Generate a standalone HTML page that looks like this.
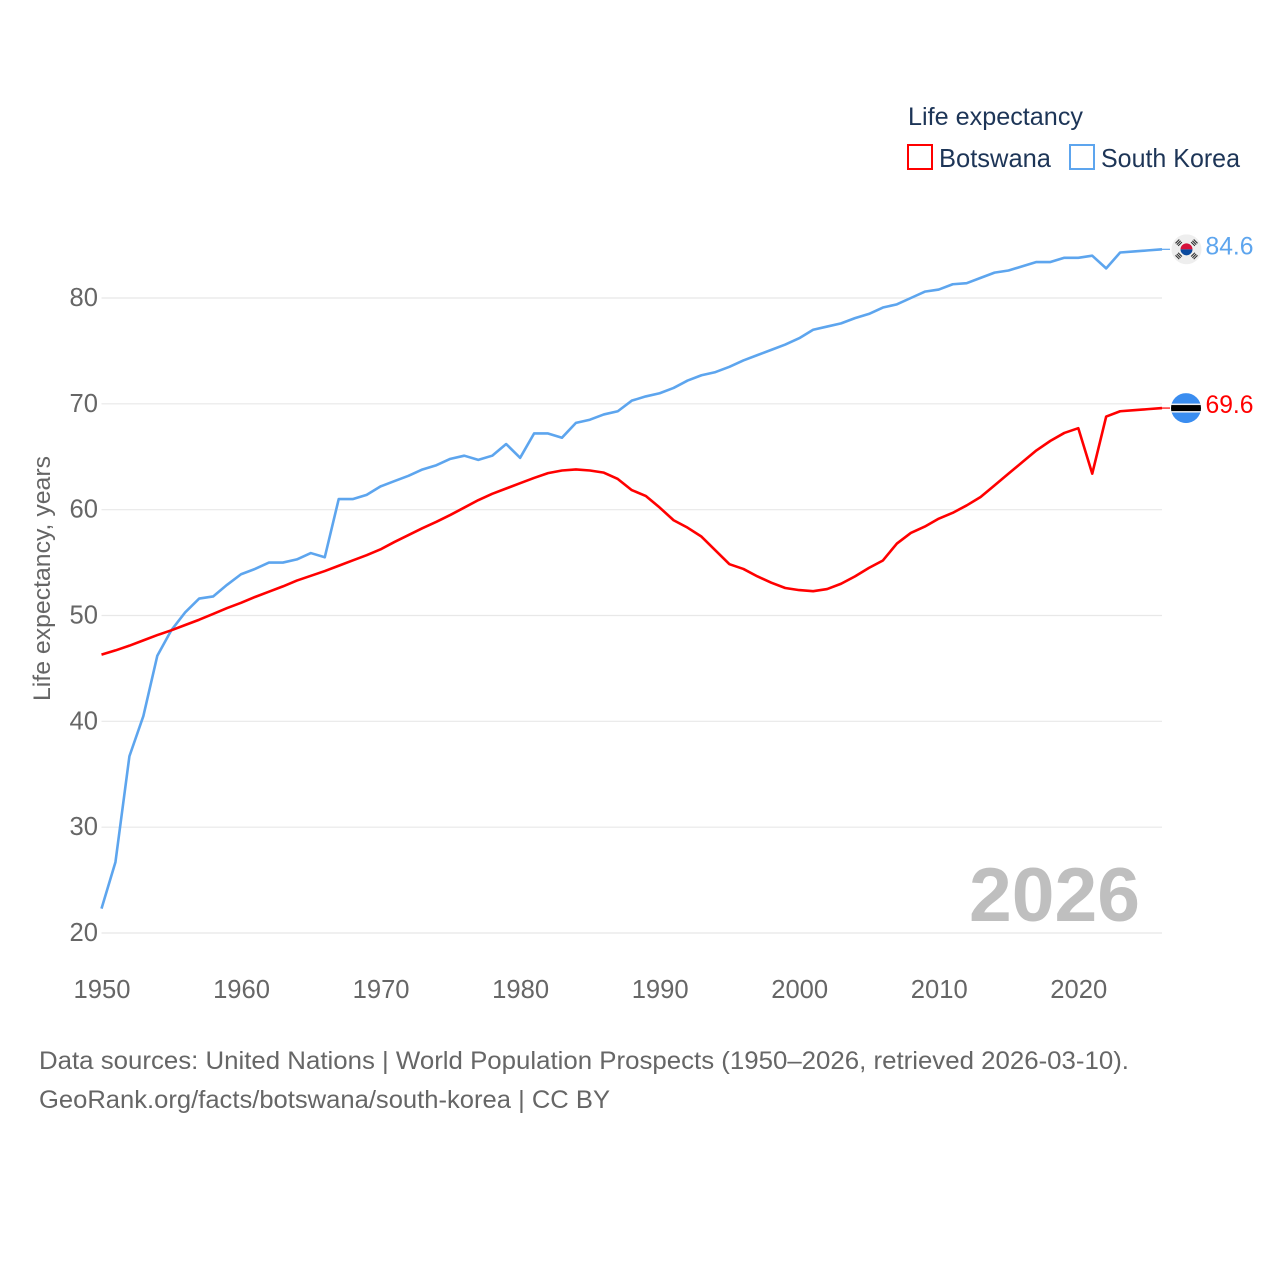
<!DOCTYPE html>
<html lang="en">
<head>
<meta charset="utf-8">
<title>Life expectancy: Botswana and South Korea</title>
<style>
html,body{margin:0;padding:0;background:#fff;width:1280px;height:1280px;overflow:hidden}
svg{display:block}
text{font-family:"Liberation Sans",sans-serif}
</style>
</head>
<body>
<svg id="chart" xmlns="http://www.w3.org/2000/svg" width="1280" height="1280" viewBox="0 0 1280 1280">
  <defs>
    <clipPath id="clip-kr"><circle cx="0" cy="0" r="15"/></clipPath>
    <clipPath id="clip-bw"><circle cx="0" cy="0" r="15"/></clipPath>
  </defs>
  <rect width="1280" height="1280" fill="#fff"/>
  <g id="grid"></g>
  <g id="ylabels"></g>
  <g id="xlabels"></g>
  <text transform="translate(50 701) rotate(-90)" font-size="24" fill="#666" textLength="245" lengthAdjust="spacingAndGlyphs">Life expectancy, years</text>
  <text x="969" y="921" font-size="76" font-weight="700" fill="#bfbfbf" textLength="171" lengthAdjust="spacingAndGlyphs">2026</text>
  <g id="series"></g>

  <g id="flag-kr">
    <g clip-path="url(#clip-kr)">
      <rect x="-15" y="-15" width="30" height="30" fill="#eeeeee"/>
      <path d="M-6 0a6 6 0 0 1 12 0z" fill="#d5103a"/>
      <path d="M-6 0a6 6 0 0 0 12 0z" fill="#0a4a9e"/>
      <g stroke="#333" stroke-width="1.1" fill="none">
        <path d="M-11 -6l3.800 -3.800M-9.700 -4.700l3.800 -3.800M-8.400 -3.400l3.800 -3.800"/>
        <path d="M11 -6l-3.800 -3.800M9.700 -4.700l-3.800 -3.800M8.400 -3.400l-3.800 -3.800"/>
        <path d="M-11 6l3.800 3.800M-9.700 4.700l3.800 3.800M-8.400 3.400l3.800 3.800"/>
        <path d="M11 6l-3.800 3.800M9.700 4.700l-3.800 3.800M8.400 3.400l-3.800 3.800"/>
      </g>
    </g>
  </g>
  <g id="flag-bw">
    <g clip-path="url(#clip-bw)">
      <rect x="-15" y="-15" width="30" height="30" fill="#3a8df0"/>
      <rect x="-15" y="-4.500" width="30" height="9" fill="#eeeeee"/>
      <rect x="-15" y="-3" width="30" height="6" fill="#000"/>
    </g>
  </g>
  <g id="end-labels"></g>

  <g>
    <text x="908" y="125" font-size="25" fill="#1d3557" textLength="175" lengthAdjust="spacingAndGlyphs">Life expectancy</text>
    <g>
      <rect x="908" y="145" width="24" height="24" fill="#fff" stroke="#ff0000" stroke-width="2"/>
      <text x="939" y="167" font-size="26" fill="#1d3557" textLength="112" lengthAdjust="spacingAndGlyphs">Botswana</text>
    </g>
    <g>
      <rect x="1070" y="145" width="24" height="24" fill="#fff" stroke="#5da5ee" stroke-width="2"/>
      <text x="1101" y="167" font-size="26" fill="#1d3557" textLength="139" lengthAdjust="spacingAndGlyphs">South Korea</text>
    </g>
  </g>

  <text x="39" y="1069" font-size="25" fill="#666" textLength="1090" lengthAdjust="spacingAndGlyphs">Data sources: United Nations | World Population Prospects (1950–2026, retrieved 2026-03-10).</text>
  <text x="39" y="1108" font-size="25" fill="#666" textLength="571" lengthAdjust="spacingAndGlyphs">GeoRank.org/facts/botswana/south-korea | CC BY</text>
</svg>
<script>
const years = [1950,1951,1952,1953,1954,1955,1956,1957,1958,1959,1960,1961,1962,1963,1964,1965,1966,1967,1968,1969,1970,1971,1972,1973,1974,1975,1976,1977,1978,1979,1980,1981,1982,1983,1984,1985,1986,1987,1988,1989,1990,1991,1992,1993,1994,1995,1996,1997,1998,1999,2000,2001,2002,2003,2004,2005,2006,2007,2008,2009,2010,2011,2012,2013,2014,2015,2016,2017,2018,2019,2020,2021,2022,2023,2024,2025,2026];
const southKorea = [22.3,26.7,36.7,40.5,46.2,48.6,50.3,51.6,51.8,52.9,53.9,54.4,55.0,55.0,55.3,55.9,55.5,61.0,61.0,61.4,62.2,62.7,63.2,63.8,64.2,64.8,65.1,64.7,65.1,66.2,64.9,67.2,67.2,66.8,68.2,68.5,69.0,69.3,70.3,70.7,71.0,71.5,72.2,72.7,73.0,73.5,74.1,74.6,75.1,75.6,76.2,77.0,77.3,77.6,78.1,78.5,79.1,79.4,80.0,80.6,80.8,81.3,81.4,81.9,82.4,82.6,83.0,83.4,83.4,83.8,83.8,84.0,82.8,84.3,84.4,84.5,84.6];
const botswana = [46.3,46.7,47.15,47.65,48.15,48.6,49.1,49.6,50.15,50.7,51.2,51.75,52.25,52.75,53.3,53.75,54.2,54.7,55.2,55.7,56.25,56.95,57.6,58.25,58.85,59.5,60.2,60.9,61.5,62.0,62.5,63.0,63.45,63.7,63.8,63.7,63.5,62.9,61.85,61.3,60.2,59.0,58.3,57.45,56.15,54.85,54.4,53.7,53.1,52.6,52.4,52.3,52.5,53.0,53.7,54.5,55.2,56.8,57.8,58.4,59.15,59.7,60.4,61.2,62.3,63.4,64.5,65.6,66.5,67.25,67.7,63.4,68.8,69.3,69.4,69.5,69.6];
const yTicks = [20,30,40,50,60,70,80];
const xTicks = [1950,1960,1970,1980,1990,2000,2010,2020];

const NS = 'http://www.w3.org/2000/svg';
const xScale = function (year) { return 101.5 + (year - 1950) * (1162 - 101.5) / 76; };
const yScale = function (value) { return 933 - (value - 20) * 635 / 60; };
const plotRight = xScale(2026);

function make(tag, parent) {
  const el = document.createElementNS(NS, tag);
  document.getElementById(parent).appendChild(el);
  return el;
}

yTicks.forEach(function (tick) {
  const line = make('line', 'grid');
  
  
  line.setAttribute('x1', xScale(1950));
  line.setAttribute('x2', plotRight);
  line.setAttribute('y1', yScale(tick));
  line.setAttribute('y2', yScale(tick));
  line.setAttribute('stroke', '#e8e8e8');
  line.setAttribute('stroke-width', '1.2');

  const label = make('text', 'ylabels');
  
  
  label.setAttribute('x', 98);
  label.setAttribute('y', yScale(tick) + 8);
  label.setAttribute('text-anchor', 'end');
  label.setAttribute('font-size', '25.6');
  label.setAttribute('fill', '#666');
  label.textContent = tick;
});

xTicks.forEach(function (tick) {
  const label = make('text', 'xlabels');
  
  
  label.setAttribute('x', xScale(tick) + 0.5);
  label.setAttribute('y', 998);
  label.setAttribute('text-anchor', 'middle');
  label.setAttribute('font-size', '25.6');
  label.setAttribute('fill', '#666');
  label.textContent = tick;
});

function points(values) {
  return values.map(function (v, i) {
    return xScale(years[i]).toFixed(2) + ',' + yScale(v).toFixed(2);
  }).join(' ');
}

const krLine = make('polyline', 'series');


krLine.setAttribute('points', points(southKorea));
krLine.setAttribute('fill', 'none');
krLine.setAttribute('stroke', '#5da5ee');
krLine.setAttribute('stroke-width', '2.6');
krLine.setAttribute('stroke-linejoin', 'round');

const bwLine = make('polyline', 'series');


bwLine.setAttribute('points', points(botswana));
bwLine.setAttribute('fill', 'none');
bwLine.setAttribute('stroke', '#ff0000');
bwLine.setAttribute('stroke-width', '2.6');
bwLine.setAttribute('stroke-linejoin', 'round');

const krLast = southKorea[southKorea.length - 1];
const bwLast = botswana[botswana.length - 1];

const krLink = make('line', 'series');


krLink.setAttribute('x1', plotRight);
krLink.setAttribute('x2', plotRight + 8);
krLink.setAttribute('y1', yScale(krLast));
krLink.setAttribute('y2', yScale(krLast));
krLink.setAttribute('stroke', '#5da5ee');
krLink.setAttribute('stroke-width', '1.2');

const bwLink = make('line', 'series');


bwLink.setAttribute('x1', plotRight);
bwLink.setAttribute('x2', plotRight + 8);
bwLink.setAttribute('y1', yScale(bwLast));
bwLink.setAttribute('y2', yScale(bwLast));
bwLink.setAttribute('stroke', '#ff0000');
bwLink.setAttribute('stroke-width', '1.2');

document.getElementById('flag-kr').setAttribute('transform', 'translate(1186.5 ' + yScale(krLast) + ')');
document.getElementById('flag-bw').setAttribute('transform', 'translate(1186 ' + yScale(bwLast) + ')');

const krValue = make('text', 'end-labels');


krValue.setAttribute('x', 1205.5);
krValue.setAttribute('y', yScale(krLast) + 5);
krValue.setAttribute('font-size', '25');
krValue.setAttribute('fill', '#5da5ee');
krValue.setAttribute('textLength', '48');
krValue.setAttribute('lengthAdjust', 'spacingAndGlyphs');
krValue.textContent = krLast.toFixed(1);

const bwValue = make('text', 'end-labels');


bwValue.setAttribute('x', 1205.5);
bwValue.setAttribute('y', yScale(bwLast) + 5);
bwValue.setAttribute('font-size', '25');
bwValue.setAttribute('fill', '#ff0000');
bwValue.setAttribute('textLength', '48');
bwValue.setAttribute('lengthAdjust', 'spacingAndGlyphs');
bwValue.textContent = bwLast.toFixed(1);
</script>
</body>
</html>
